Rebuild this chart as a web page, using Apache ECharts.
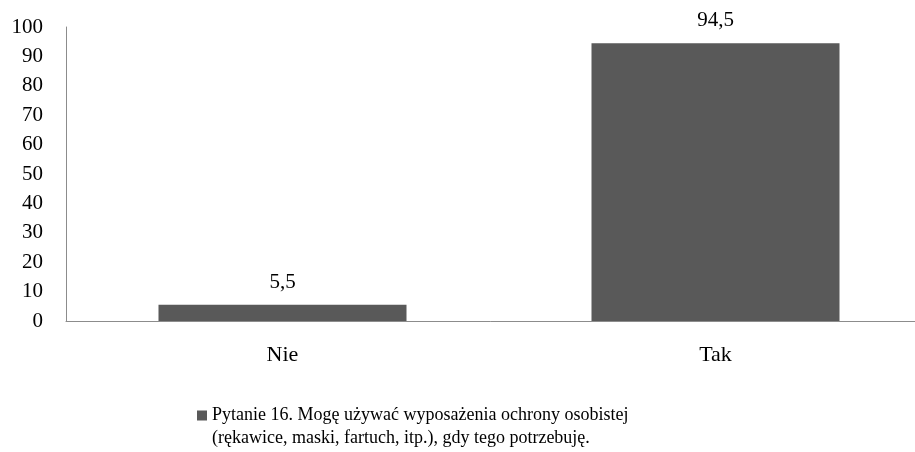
<!DOCTYPE html>
<html>
<head>
<meta charset="utf-8">
<script src="https://cdn.jsdelivr.net/npm/echarts@6/dist/echarts.min.js"></script>
<style>
  html, body { margin: 0; padding: 0; background: #fff; }
  #chart { width: 915px; height: 452px; }
</style>
</head>
<body>
<div id="chart"></div>
<script>
// dane wykresu
var categories = ['Nie', 'Tak'];
var values = [5.5, 94.5];
var seriesName = 'Pytanie 16. Mogę używać wyposażenia ochrony osobistej\n(rękawice, maski, fartuch, itp.), gdy tego potrzebuję.';

var chart = echarts.init(document.getElementById('chart'));
var font = '"Liberation Serif", "Times New Roman", serif';

var option = {
  animation: false,
  textStyle: { fontFamily: font },
  grid: { left: 66, top: 27, width: 866, height: 294, outerBoundsMode: 'none' },
  legend: {
    data: [seriesName],
    left: 197,
    top: 404,
    padding: 0,
    itemWidth: 10,
    itemHeight: 46,
    // kwadrat przy pierwszej linii tekstu
    icon: 'path://M0,0h0.01v0.01h-0.01z M0,6.5h10v10h-10z M0,45.99h0.01v0.01h-0.01z',
    textStyle: { fontFamily: font, fontSize: 18, color: '#000', lineHeight: 23 }
  },
  xAxis: {
    type: 'category',
    data: categories,
    axisLine: { lineStyle: { color: '#8c8c8c', width: 1 } },
    axisTick: { show: false },
    axisLabel: { color: '#000', fontSize: 22, fontFamily: font, margin: 23 }
  },
  yAxis: {
    type: 'value',
    min: 0,
    max: 100,
    interval: 10,
    axisLine: { show: true, lineStyle: { color: '#8c8c8c', width: 1 } },
    axisTick: { show: false },
    splitLine: { show: false },
    axisLabel: { color: '#000', fontSize: 21, fontFamily: font, margin: 23 }
  },
  series: [{
    name: seriesName,
    type: 'bar',
    data: values,
    barWidth: 248,
    itemStyle: { color: '#595959' },
    label: {
      show: true,
      position: 'top',
      distance: 12,
      color: '#000',
      fontSize: 21,
      fontFamily: font,
      formatter: function (p) { return String(p.value).replace('.', ','); }
    }
  }]
};

chart.setOption(option);
</script>
</body>
</html>
